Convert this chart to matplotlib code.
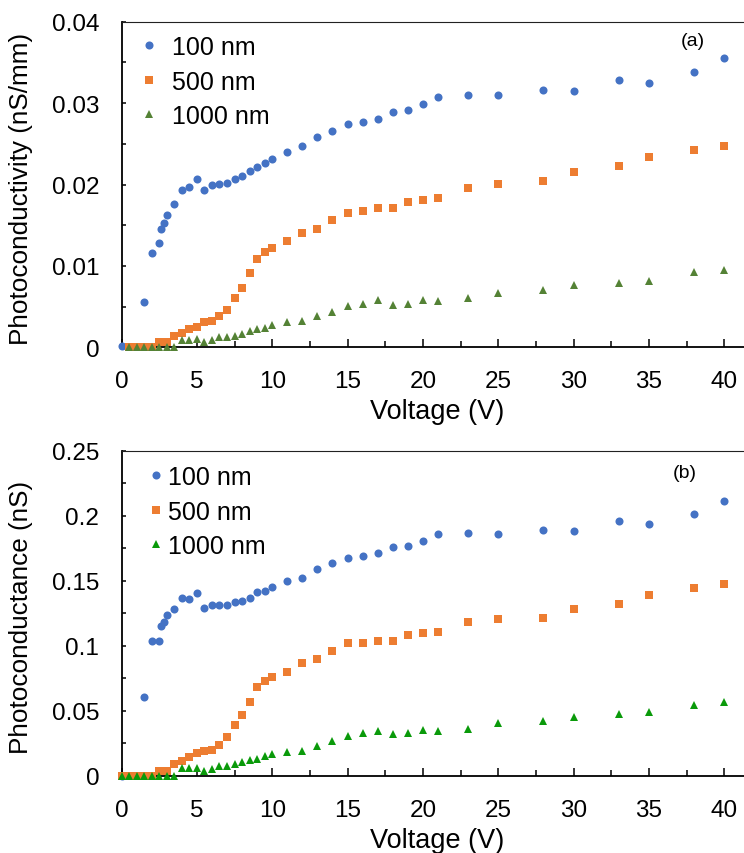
import matplotlib
matplotlib.use("Agg")
import matplotlib.pyplot as plt
from matplotlib.ticker import FixedLocator, FuncFormatter

plt.rcParams['font.family'] = ['Liberation Sans', 'DejaVu Sans']

# ---------------- data: panel (a) photoconductivity (nS/mm) ----------------
V_a_100 = [0, 1.5, 2, 2.5, 2.6, 2.8, 3, 3.5, 4, 4.5, 5, 5.5, 6, 6.5, 7, 7.5, 8, 8.5, 9, 9.5,
           10, 11, 12, 13, 14, 15, 16, 17, 18, 19, 20, 21, 23, 25, 28, 30, 33, 35, 38, 40]
a_100 = [0.0002, 0.0056, 0.0116, 0.0128, 0.0145, 0.0153, 0.0163, 0.0176, 0.0193, 0.0197,
         0.0207, 0.0193, 0.0199, 0.0201, 0.0202, 0.0207, 0.0211, 0.0216, 0.0222, 0.0226,
         0.0231, 0.0240, 0.0247, 0.0258, 0.0266, 0.0274, 0.0277, 0.0281, 0.0289, 0.0291,
         0.0299, 0.0307, 0.0310, 0.0310, 0.0316, 0.0315, 0.0328, 0.0325, 0.0338, 0.0355]

V_a_500 = [0.5, 1, 1.5, 2, 2.5, 3, 3.5, 4, 4.5, 5, 5.5, 6, 6.5, 7, 7.5, 8, 8.5, 9, 9.5, 10,
           11, 12, 13, 14, 15, 16, 17, 18, 19, 20, 21, 23, 25, 28, 30, 33, 35, 38, 40]
a_500 = [0, 0, 0, 0, 0.0007, 0.0007, 0.00135, 0.0018, 0.0022, 0.0025,
         0.0031, 0.0032, 0.0038, 0.0046, 0.0061, 0.0073, 0.0091, 0.0108, 0.0117, 0.0122,
         0.0130, 0.0140, 0.0145, 0.0156, 0.0165, 0.0167, 0.0171, 0.0171, 0.0179, 0.0181,
         0.0183, 0.0196, 0.0201, 0.0204, 0.0215, 0.0223, 0.0234, 0.0242, 0.0247]

V_a_1000 = [0.5, 1, 1.5, 2, 2.5, 3, 3.5, 4, 4.5, 5, 5.5, 6, 6.5, 7, 7.5, 8, 8.5, 9, 9.5, 10,
            11, 12, 13, 14, 15, 16, 17, 18, 19, 20, 21, 23, 25, 28, 30, 33, 35, 38, 40]
a_1000 = [0, 0, 0, 0, 0, 0, 0, 0.0009, 0.0009, 0.0010,
          0.0007, 0.0009, 0.0013, 0.0013, 0.0014, 0.0016, 0.0020, 0.0022, 0.0024, 0.0027,
          0.0031, 0.0032, 0.0038, 0.0043, 0.0051, 0.0053, 0.0058, 0.0052, 0.0053, 0.0058,
          0.0057, 0.0060, 0.0067, 0.0070, 0.0076, 0.0079, 0.0082, 0.0092, 0.0095]

# ---------------- data: panel (b) photoconductance (nS) ----------------
V_b_100 = [0, 1.5, 2, 2.5, 2.6, 2.8, 3, 3.5, 4, 4.5, 5, 5.5, 6, 6.5, 7, 7.5, 8, 8.5, 9, 9.5,
           10, 11, 12, 13, 14, 15, 16, 17, 18, 19, 20, 21, 23, 25, 28, 30, 33, 35, 38, 40]
b_100 = [0, 0.0605, 0.1034, 0.1039, 0.1154, 0.1185, 0.1239, 0.1282, 0.1367, 0.1359,
         0.1403, 0.1290, 0.1315, 0.1312, 0.1312, 0.1334, 0.1344, 0.1367, 0.1410, 0.1421,
         0.1452, 0.1498, 0.1523, 0.1593, 0.1639, 0.1673, 0.1692, 0.1713, 0.1757, 0.1769,
         0.1803, 0.1857, 0.1865, 0.1857, 0.1892, 0.1885, 0.1959, 0.1938, 0.2015, 0.2115]

V_b_500 = [0, 0.5, 1, 1.5, 2, 2.5, 3, 3.5, 4, 4.5, 5, 5.5, 6, 6.5, 7, 7.5, 8, 8.5, 9, 9.5,
           10, 11, 12, 13, 14, 15, 16, 17, 18, 19, 20, 21, 23, 25, 28, 30, 33, 35, 38, 40]
b_500 = [0, 0, 0, 0, 0, 0.0038, 0.0038, 0.0090, 0.0115, 0.0141,
         0.0172, 0.0192, 0.0200, 0.0239, 0.0300, 0.0392, 0.0467, 0.0569, 0.0685, 0.0731,
         0.0759, 0.0800, 0.0867, 0.0898, 0.0962, 0.1023, 0.1023, 0.1039, 0.1039, 0.1082,
         0.1095, 0.1108, 0.1185, 0.1205, 0.1215, 0.1285, 0.1323, 0.1392, 0.1441, 0.1477]

V_b_1000 = [0, 0.5, 1, 1.5, 2, 2.5, 3, 3.5, 4, 4.5, 5, 5.5, 6, 6.5, 7, 7.5, 8, 8.5, 9, 9.5,
            10, 11, 12, 13, 14, 15, 16, 17, 18, 19, 20, 21, 23, 25, 28, 30, 33, 35, 38, 40]
b_1000 = [0, 0, 0, 0, 0, 0, 0, 0, 0.0057, 0.0057,
          0.0057, 0.0038, 0.0051, 0.0072, 0.0077, 0.0090, 0.0103, 0.0123, 0.0128, 0.0149,
          0.0167, 0.0185, 0.0192, 0.0226, 0.0265, 0.0308, 0.0326, 0.0346, 0.0321, 0.0326,
          0.0351, 0.0346, 0.0359, 0.0403, 0.0423, 0.0449, 0.0472, 0.0492, 0.0546, 0.0567]

series_labels = ['100 nm', '500 nm', '1000 nm']
x_major_ticks = [0, 5, 10, 15, 20, 25, 30, 35, 40]
x_minor_ticks = [2.5, 7.5, 12.5, 17.5, 22.5, 27.5, 32.5, 37.5]
y_ticks_a = [0, 0.01, 0.02, 0.03, 0.04]
y_minor_a = [0.005, 0.015, 0.025, 0.035]
y_ticks_b = [0, 0.05, 0.1, 0.15, 0.2, 0.25]
y_minor_b = [0.025, 0.075, 0.125, 0.175, 0.225]

BLUE = '#4472C4'
ORANGE = '#ED7D31'
GREEN_A = '#548235'
GREEN_B = '#0A9A0A'

W, H = 744, 854
fig = plt.figure(figsize=(W / 100, H / 100), dpi=100)

x_left = 121.5
x_right = 744.0
px_per_volt = 15.07
xmax = (x_right - x_left) / px_per_volt

ax1 = fig.add_axes([x_left / W, (H - 348.3) / H, (x_right - x_left) / W, 325.6 / H])
ax2 = fig.add_axes([x_left / W, (H - 776.7) / H, (x_right - x_left) / W, 325.0 / H])


def style(ax, yticks, yminor, ylim, ylabel):
    ax.set_xlim(0, xmax)
    ax.set_ylim(*ylim)
    ax.xaxis.set_major_locator(FixedLocator(x_major_ticks))
    ax.xaxis.set_minor_locator(FixedLocator(x_minor_ticks))
    ax.yaxis.set_major_locator(FixedLocator(yticks))
    ax.yaxis.set_minor_locator(FixedLocator(yminor))
    ax.xaxis.set_major_formatter(FuncFormatter(lambda v, p: '%g' % v))
    ax.yaxis.set_major_formatter(FuncFormatter(lambda v, p: '%g' % v))
    ax.tick_params(axis='x', which='major', direction='in', length=5.8, width=1.1,
                   labelsize=17.5, pad=16.5, top=False)
    ax.tick_params(axis='x', which='minor', direction='in', length=4.0, width=1.1, top=False)
    ax.tick_params(axis='y', which='both', direction='in', length=3.2, width=1.1,
                   labelsize=17.5, pad=16, right=False)
    ax.spines['right'].set_visible(False)
    ax.spines['left'].set_linewidth(1.3)
    ax.spines['bottom'].set_linewidth(1.3)
    ax.spines['top'].set_linewidth(0.8)
    ax.spines['top'].set_color('#222222')
    ax.set_xlabel('Voltage (V)', fontsize=19.5)
    ax.xaxis.label.set_va('center')
    ax.set_ylabel(ylabel, fontsize=18.8)
    ax.yaxis.label.set_va('center')


style(ax1, y_ticks_a, y_minor_a, (0, 0.04), 'Photoconductivity (nS/mm)')
style(ax2, y_ticks_b, y_minor_b, (0, 0.25), 'Photoconductance (nS)')

ylab_x = (21.0 - x_left) / (x_right - x_left)
ax1.xaxis.set_label_coords(0.507, (348.3 - 412) / 325.6)
ax1.yaxis.set_label_coords(ylab_x, 0.49)
ax2.xaxis.set_label_coords(0.507, (776.7 - 841) / 325.0)
ax2.yaxis.set_label_coords(ylab_x, 0.49)

mk = dict(linestyle='none', markeredgewidth=0, clip_on=False, zorder=3)

h1 = ax1.plot(V_a_100, a_100, marker='o', markersize=5.8, color=BLUE, label=series_labels[0], **mk)[0]
h2 = ax1.plot(V_a_500, a_500, marker='s', markersize=6.0, color=ORANGE, label=series_labels[1], **mk)[0]
h3 = ax1.plot(V_a_1000, a_1000, marker='^', markersize=6.3, color=GREEN_A, label=series_labels[2], **mk)[0]

g1 = ax2.plot(V_b_100, b_100, marker='o', markersize=5.8, color=BLUE, label=series_labels[0], **mk)[0]
g2 = ax2.plot(V_b_500, b_500, marker='s', markersize=6.0, color=ORANGE, label=series_labels[1], **mk)[0]
g3 = ax2.plot(V_b_1000, b_1000, marker='^', markersize=6.3, color=GREEN_B, label=series_labels[2], **mk)[0]

ax1.legend(handles=[h1, h2, h3], loc='upper left',
           bbox_to_anchor=((136.8 - x_left) / (x_right - x_left), (348.3 - 36) / 325.6),
           frameon=False, borderpad=0, borderaxespad=0, handlelength=1.0,
           handletextpad=0.4, labelspacing=0.42, numpoints=1, fontsize=18)
ax2.legend(handles=[g1, g2, g3], loc='upper left',
           bbox_to_anchor=((148.2 - x_left) / (x_right - x_left), (776.7 - 466) / 325.0),
           frameon=False, borderpad=0, borderaxespad=0, handlelength=0.6,
           handletextpad=0.2, labelspacing=0.42, numpoints=1, fontsize=18)

fig.text(693 / W, 1 - 41.7 / H, '(a)', ha='center', va='center', fontsize=14)
fig.text(685 / W, 1 - 473.3 / H, '(b)', ha='center', va='center', fontsize=14)

fig.savefig('out.png', dpi=100)
